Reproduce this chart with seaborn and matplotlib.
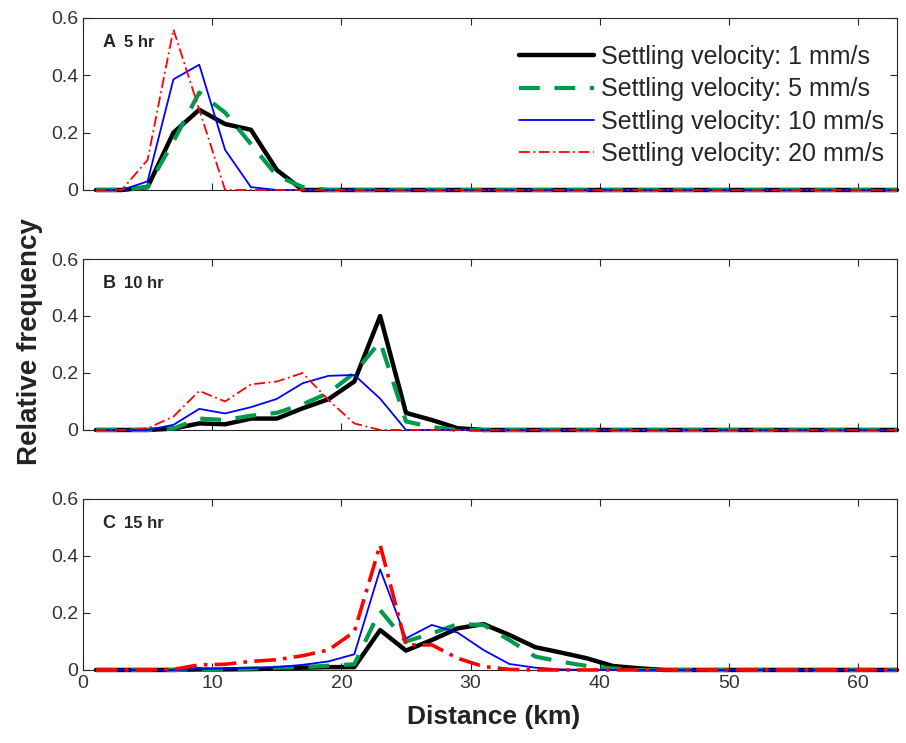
import numpy as np
import pandas as pd
import matplotlib
matplotlib.use("Agg")
import matplotlib.pyplot as plt
import seaborn as sns

# distance bins (km), centre of every 2 km bin
distance = list(range(1, 64, 2))

def pad(vals):
    return vals + [0.0] * (len(distance) - len(vals))

# panel A: 5 hr
a_1mm = pad([0, 0, 0.01, 0.20, 0.28, 0.23, 0.21, 0.07, 0.0])
a_5mm = pad([0, 0, 0.01, 0.17, 0.34, 0.27, 0.16, 0.05, 0.01])
a_10mm = pad([0, 0, 0.03, 0.386, 0.437, 0.14, 0.01, 0.0])
a_20mm = pad([0, 0, 0.105, 0.56, 0.28, 0.0])

# panel B: 10 hr
b_1mm = pad([0, 0, 0, 0.005, 0.023, 0.02, 0.04, 0.04, 0.076, 0.108, 0.17, 0.40, 0.06, 0.035, 0.006, 0.0])
b_5mm = pad([0, 0, 0, 0.005, 0.04, 0.035, 0.05, 0.06, 0.09, 0.13, 0.20, 0.31, 0.03, 0.01, 0.0])
b_10mm = pad([0, 0, 0, 0.018, 0.074, 0.058, 0.08, 0.109, 0.164, 0.19, 0.193, 0.11, 0.0])
b_20mm = pad([0, 0, 0.006, 0.047, 0.137, 0.10, 0.16, 0.17, 0.20, 0.105, 0.023, 0.0])

# panel C: 15 hr
c_1mm = pad([0, 0, 0, 0, 0.002, 0.002, 0.003, 0.005, 0.008, 0.01, 0.01, 0.14, 0.068, 0.105,
             0.146, 0.161, 0.123, 0.08, 0.061, 0.041, 0.014, 0.006, 0.0])
c_5mm = pad([0, 0, 0, 0, 0.002, 0.003, 0.005, 0.008, 0.01, 0.015, 0.02, 0.21, 0.10, 0.128,
             0.161, 0.158, 0.105, 0.047, 0.029, 0.014, 0.005, 0.0])
c_10mm = pad([0, 0, 0, 0, 0.003, 0.005, 0.007, 0.01, 0.018, 0.03, 0.055, 0.353, 0.111, 0.158,
              0.131, 0.07, 0.021, 0.008, 0.002, 0.0])
c_20mm = pad([0, 0, 0, 0.002, 0.018, 0.02, 0.03, 0.036, 0.05, 0.07, 0.134, 0.439, 0.088, 0.088,
              0.041, 0.012, 0.002, 0.0])

labels = ["Settling velocity: 1 mm/s", "Settling velocity: 5 mm/s",
          "Settling velocity: 10 mm/s", "Settling velocity: 20 mm/s"]
panels = [("A", "5 hr", [a_1mm, a_5mm, a_10mm, a_20mm]),
          ("B", "10 hr", [b_1mm, b_5mm, b_10mm, b_20mm]),
          ("C", "15 hr", [c_1mm, c_5mm, c_10mm, c_20mm])]

colors = ["black", "#009a4e", "#0000ff", "#ff0000"]
styles = ["-", (0, (5, 3.5)), "-", (0, (6, 2, 1, 2))]
widths = [3.2, 3.0, 1.3, 1.3]

sns.set_style("ticks")
plt.rcParams["font.family"] = ["Liberation Sans", "DejaVu Sans"]

fig = plt.figure(figsize=(9.06, 7.43), dpi=100)
boxes = [[0.0916, 0.7443, 0.8984, 0.2315],
         [0.0916, 0.4213, 0.8984, 0.2301],
         [0.0916, 0.0983, 0.8984, 0.2301]]

for i, (letter, hr, series) in enumerate(panels):
    ax = fig.add_axes(boxes[i])
    for k, vals in enumerate(series):
        df = pd.DataFrame({"dist": distance, "freq": vals})
        lw = widths[k]
        if i == 2 and k == 3:
            lw = 2.6
        sns.lineplot(data=df, x="dist", y="freq", ax=ax, color=colors[k],
                     linestyle=styles[k], linewidth=lw, label=labels[k] if i == 0 else None,
                     clip_on=False, zorder=3 + k)
    ax.set_xlim(0, 63)
    ax.set_ylim(0, 0.6)
    ax.set_yticks([0, 0.2, 0.4, 0.6])
    ax.set_yticklabels(["0", "0.2", "0.4", "0.6"])
    ax.set_xticks(range(0, 61, 10))
    ax.tick_params(direction="in", top=True, right=True, length=5, labelsize=14,
                   labelcolor="#333333", width=0.8)
    for s in ax.spines.values():
        s.set_linewidth(0.8)
    ax.set_xlabel("")
    ax.set_ylabel("")
    if i < 2:
        ax.set_xticklabels([])
    ax.text(0.024, 0.83, letter, transform=ax.transAxes, fontsize=13, fontweight="bold")
    ax.text(0.05, 0.83, hr, transform=ax.transAxes, fontsize=12, fontweight="bold")
    if i == 0:
        leg = ax.legend(loc="upper right", frameon=False, fontsize=18, handlelength=3.0,
                        labelspacing=0.33, handletextpad=0.3, borderaxespad=0.0,
                        bbox_to_anchor=(0.997, 0.9))
        leg.set_zorder(10)
    else:
        leg = ax.get_legend()
        if leg:
            leg.remove()

fig.text(0.033, 0.54, "Relative frequency", rotation=90, ha="center", va="center",
         fontsize=20, fontweight="bold", color="#222222")
fig.text(0.545, 0.035, "Distance (km)", ha="center", va="center",
         fontsize=19, fontweight="bold", color="#222222")

fig.savefig("out.png", dpi=100)
